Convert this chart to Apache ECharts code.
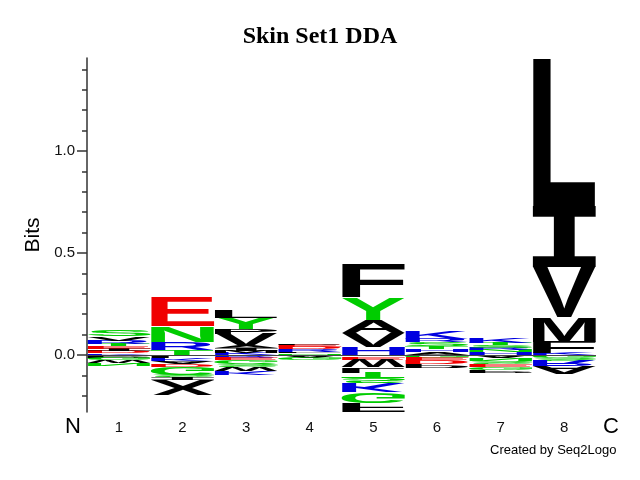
<!DOCTYPE html>
<html>
<head>
<meta charset="utf-8">
<title>Skin Set1 DDA</title>
<script src="https://cdn.jsdelivr.net/npm/echarts@6/dist/echarts.min.js"></script>
<style>
html, body { margin: 0; padding: 0; background: #fff; }
#main { width: 640px; height: 480px; }
</style>
</head>
<body>
<div id="main"></div>
<script>
var positions = [1, 2, 3, 4, 5, 6, 7, 8];

// letters above zero, from the axis upward (bits)
var upLetters = [
    ['K', 'D', 'I', 'E', 'T', 'R', 'V', 'S'],
    ['T', 'R', 'N', 'E'],
    ['K', 'M', 'I', 'A', 'V', 'P', 'Y', 'L'],
    ['N', 'L', 'R', 'D', 'E', 'P'],
    ['H', 'V', 'A', 'Y', 'F'],
    ['A', 'H', 'T', 'S', 'R', 'K'],
    ['H', 'N', 'R', 'S', 'T', 'K'],
    ['K', 'F', 'M', 'V', 'I', 'L']
];
var upBits = [
    [0.008, 0.010, 0.012, 0.014, 0.010, 0.016, 0.020, 0.030],
    [0.025, 0.040, 0.078, 0.142],
    [0.010, 0.010, 0.012, 0.012, 0.059, 0.025, 0.054, 0.039],
    [0.008, 0.008, 0.012, 0.010, 0.012, 0.008],
    [0.039, 0.069, 0.064, 0.108, 0.162],
    [0.012, 0.015, 0.015, 0.020, 0.017, 0.040],
    [0.012, 0.012, 0.012, 0.012, 0.012, 0.022],
    [0.010, 0.054, 0.120, 0.245, 0.300, 0.722]
];

// letters below zero, from the axis downward (bits, drawn upside down)
var downLetters = [
    ['P', 'G', 'W', 'N'],
    ['L', 'K', 'A', 'D', 'G', 'S', 'I', 'X'],
    ['R', 'E', 'G', 'S', 'W', 'K'],
    ['A', 'G'],
    ['Q', 'E', 'W', 'L', 'T', 'S', 'K', 'G', 'F'],
    ['G', 'E', 'D', 'P'],
    ['A', 'N', 'S', 'E', 'G', 'P'],
    ['G', 'S', 'R', 'A']
];
var downBits = [
    [0.012, 0.014, 0.012, 0.010],
    [0.015, 0.015, 0.015, 0.015, 0.035, 0.015, 0.015, 0.075],
    [0.010, 0.015, 0.020, 0.015, 0.020, 0.020],
    [0.012, 0.015],
    [0.010, 0.012, 0.040, 0.022, 0.030, 0.025, 0.045, 0.050, 0.045],
    [0.010, 0.015, 0.020, 0.020],
    [0.015, 0.015, 0.015, 0.015, 0.015, 0.015],
    [0.015, 0.010, 0.030, 0.035]
];

var majorTicks = [0, 0.5, 1.0];
var minorTicks = [-0.2, -0.1, 0.1, 0.2, 0.3, 0.4, 0.6, 0.7, 0.8, 0.9, 1.1, 1.2, 1.3, 1.4];

var sansFont = '"Liberation Sans", Arial, sans-serif';

function letterFont(ch) {
    // the logo's I carries bars top and bottom
    if (ch === 'I') return 'bold 100px "DejaVu Sans Mono", monospace';
    return 'bold 100px ' + sansFont;
}

function residueColor(ch) {
    if ('DE'.indexOf(ch) >= 0) return '#f00000';
    if ('HKR'.indexOf(ch) >= 0) return '#0000e0';
    if ('GNQSTY'.indexOf(ch) >= 0) return '#00cc00';
    return '#000000';
}

// ink box of each glyph, so the stretched letter fills its slot
var measureCtx = document.createElement('canvas').getContext('2d');
var inkCache = {};
function inkBox(ch) {
    if (!inkCache[ch]) {
        measureCtx.font = letterFont(ch);
        measureCtx.textAlign = 'left';
        measureCtx.textBaseline = 'middle';
        var m = measureCtx.measureText(ch);
        inkCache[ch] = {
            l: m.actualBoundingBoxLeft, r: m.actualBoundingBoxRight,
            a: m.actualBoundingBoxAscent, d: m.actualBoundingBoxDescent
        };
    }
    return inkCache[ch];
}

// one item per letter: [position, lower bits, upper bits]
var glyphData = [];
var glyphs = [];
positions.forEach(function (p, i) {
    var y = 0;
    upLetters[i].forEach(function (ch, j) {
        glyphData.push([p, y, y + upBits[i][j]]);
        glyphs.push({ ch: ch, flip: false });
        y += upBits[i][j];
    });
    y = 0;
    downLetters[i].forEach(function (ch, j) {
        glyphData.push([p, y - downBits[i][j], y]);
        glyphs.push({ ch: ch, flip: true });
        y -= downBits[i][j];
    });
});

function renderLetter(params, api) {
    var g = glyphs[params.dataIndex];
    var x = api.value(0);
    var tl = api.coord([x - 0.5, api.value(2)]);
    var br = api.coord([x + 0.5, api.value(1)]);
    var w = br[0] - tl[0], h = br[1] - tl[1];
    if (h <= 0.01) return;
    var b = inkBox(g.ch);
    var sx = w / (b.l + b.r);
    var sy = h / (b.a + b.d);
    var ty = g.flip ? tl[1] + h - sy * b.a : tl[1] + sy * b.a;
    return {
        type: 'text',
        x: tl[0] + sx * b.l,
        y: ty,
        scaleX: sx,
        scaleY: g.flip ? -sy : sy,
        style: {
            text: g.ch, x: 0, y: 0, font: letterFont(g.ch),
            fill: residueColor(g.ch),
            align: 'left', verticalAlign: 'middle',
            textAlign: 'left', textVerticalAlign: 'middle'
        }
    };
}

var chart = echarts.init(document.getElementById('main'));

var option = {
    backgroundColor: '#fff',
    animation: false,
    title: {
        text: 'Skin Set1 DDA',
        left: 'center',
        top: 20,
        textStyle: { fontFamily: '"Liberation Serif", "Times New Roman", serif', fontWeight: 'bold', fontSize: 24, color: '#000' }
    },
    grid: { left: 87, right: 44, top: 58, bottom: 68 },
    xAxis: {
        type: 'value', min: 0.5, max: 8.5,
        axisLine: { show: false },
        axisTick: { show: false },
        splitLine: { show: false },
        axisLabel: {
            customValues: positions,
            margin: 8,
            fontFamily: sansFont,
            fontSize: 15, color: '#111'
        }
    },
    yAxis: [{
        type: 'value', min: -0.28, max: 1.456,
        name: 'Bits', nameLocation: 'middle', nameGap: 42, nameRotate: 90,
        nameTextStyle: { fontFamily: sansFont, fontSize: 21, color: '#000' },
        axisLine: { show: true, lineStyle: { color: '#333', width: 1.5 } },
        axisTick: { show: true, customValues: majorTicks, length: 10, lineStyle: { color: '#333', width: 1.5 } },
        splitLine: { show: false },
        axisLabel: {
            customValues: majorTicks, margin: 12,
            formatter: function (v) { return v.toFixed(1); },
            fontFamily: sansFont, fontSize: 15, color: '#111'
        }
    }, {
        type: 'value', min: -0.28, max: 1.456, position: 'left',
        axisLine: { show: false },
        axisTick: { show: true, customValues: minorTicks, length: 5, lineStyle: { color: '#333', width: 1.5 } },
        axisLabel: { show: false },
        splitLine: { show: false }
    }],
    graphic: [
        { type: 'text', left: 65, top: 416, style: { text: 'N', font: '22px ' + sansFont, fill: '#000' } },
        { type: 'text', left: 603, top: 416, style: { text: 'C', font: '22px ' + sansFont, fill: '#000' } },
        { type: 'text', left: 490, top: 444, style: { text: 'Created by Seq2Logo', font: '13px ' + sansFont, fill: '#000' } }
    ],
    series: [{
        type: 'custom',
        renderItem: renderLetter,
        data: glyphData,
        encode: { x: 0, y: [1, 2] },
        clip: false,
        markLine: {
            silent: true, symbol: 'none', label: { show: false },
            lineStyle: { color: '#444', width: 1, type: 'solid' },
            data: [{ yAxis: 0 }]
        }
    }]
};

chart.setOption(option);
</script>
</body>
</html>
